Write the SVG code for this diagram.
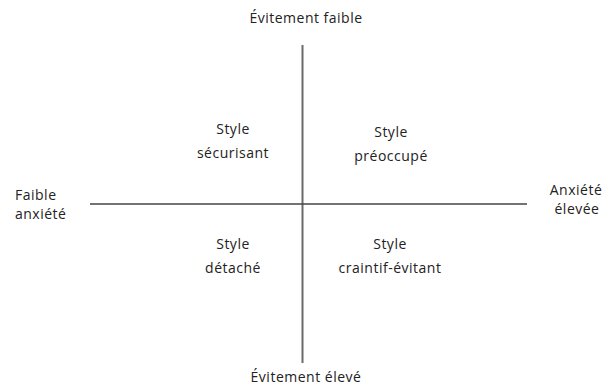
<svg xmlns="http://www.w3.org/2000/svg" width="610" height="387" viewBox="0 0 610 387">
<style>
text{font-family:"Open Sans","Liberation Sans",sans-serif;font-size:14px;letter-spacing:0.5px;fill:#222;text-anchor:middle}
.v{stroke:#6a6a6a;stroke-width:2;fill:none}
.h{stroke:#444;stroke-width:1.5;fill:none}
</style>
<rect width="610" height="387" fill="#fff"/>
<g id="connectors">
<line class="v" x1="302.5" y1="45" x2="302.5" y2="363"/>
<line class="h" x1="90" y1="204" x2="527" y2="204"/>
</g>
<g id="top"><text x="306" y="23">Évitement faible</text></g>
<g id="bottom"><text x="306" y="382">Évitement élevé</text></g>
<g id="left"><text x="15" y="200" style="text-anchor:start">Faible</text><text x="15" y="219" style="text-anchor:start">anxiété</text></g>
<g id="right"><text x="576" y="195">Anxiété</text><text x="577" y="214">élevée</text></g>
<g id="q1"><text x="233" y="134">Style</text><text x="233" y="158">sécurisant</text></g>
<g id="q2"><text x="391" y="137">Style</text><text x="391" y="161">préoccupé</text></g>
<g id="q3"><text x="233" y="249">Style</text><text x="233" y="273">détaché</text></g>
<g id="q4"><text x="390" y="249">Style</text><text x="390" y="273">craintif-évitant</text></g>
</svg>
